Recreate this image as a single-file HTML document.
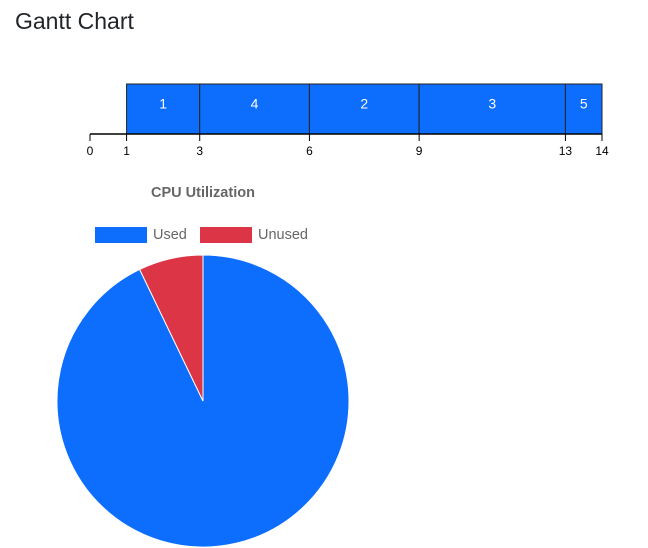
<!DOCTYPE html>
<html><head><meta charset="utf-8"><style>
body{margin:0;background:#fff;width:648px;height:548px;overflow:hidden;font-family:"Liberation Sans",Arial,sans-serif}
h1{position:absolute;left:15px;top:8px;margin:0;font-size:23px;font-weight:normal;color:#212529}
</style></head><body>
<h1>Gantt Chart</h1>
<svg id="g" width="648" height="548" style="position:absolute;left:0;top:0"></svg>
<script>
const processes=["1","4","2","3","5"];
const starts=[1,3,6,9,13];
const ends=[3,6,9,13,14];
const ticks=[0,1,3,6,9,13,14];
const pieLabels=["Used","Unused"];
const pieValues=[13,1];
const NS="http://www.w3.org/2000/svg";
const svg=document.getElementById('g');
function mk(t,a,p){const e=document.createElementNS(NS,t);for(const k in a)e.setAttribute(k,a[k]);(p||svg).appendChild(e);return e;}
const x0=90,x1=602,tMax=ticks[ticks.length-1];
const xs=v=>x0+(x1-x0)*v/tMax;
const barTop=84,axisY=134;
processes.forEach((p,i)=>{
  const r=mk('rect',{x:xs(starts[i]),y:barTop,width:xs(ends[i])-xs(starts[i]),height:axisY-barTop,fill:'#0d6efd',stroke:'#222','stroke-width':1});
  
  
  const t=mk('text',{x:(xs(starts[i])+xs(ends[i]))/2,y:barTop+21,'text-anchor':'middle','dominant-baseline':'middle',fill:'#fff','font-size':14});
  t.textContent=p;
  
  
});
const ax=mk('line',{x1:x0,x2:x1,y1:axisY,y2:axisY,stroke:'#000','stroke-width':1.5});


ticks.forEach(v=>{
  mk('line',{x1:xs(v),x2:xs(v),y1:axisY,y2:axisY+7,stroke:'#000'});
  const t=mk('text',{x:xs(v),y:155,'text-anchor':'middle',fill:'#000','font-size':12});
  t.textContent=v;
  
  
});
const tt=mk('text',{x:203,y:197,'text-anchor':'middle',fill:'#666','font-size':14.5,'font-weight':'bold'});
tt.textContent='CPU Utilization';


const colors=['#0d6efd','#dc3545'];
const lx=[95,200];
pieLabels.forEach((l,i)=>{
  const g=mk('g',{});
  
  
  mk('rect',{x:lx[i],y:227,width:52,height:16,fill:colors[i]},g);
  const t=mk('text',{x:lx[i]+58,y:239,fill:'#666','font-size':14.5},g);
  t.textContent=l;
});
const cx=203,cy=401,R=146,total=pieValues.reduce((a,b)=>a+b,0);
let a=-Math.PI/2;
pieValues.forEach((v,i)=>{
  const a2=a+2*Math.PI*v/total,large=(a2-a)>Math.PI?1:0;
  const p=mk('path',{d:`M${cx},${cy}L${cx+R*Math.cos(a)},${cy+R*Math.sin(a)}A${R},${R} 0 ${large} 1 ${cx+R*Math.cos(a2)},${cy+R*Math.sin(a2)}Z`,fill:colors[i],stroke:'#fff','stroke-width':1});
  
  
  a=a2;
});
</script>
</body></html>
